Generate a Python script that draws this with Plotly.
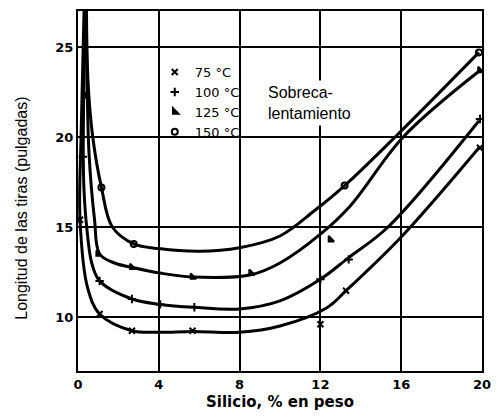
import plotly.graph_objects as go

# Curve outlines
l75_x = [0.3, 0.15, 0.1, 0.48, 1.07, 2.67, 4.0, 5.67, 8.0, 10.0, 12.3, 13.27, 16.0, 19.85]
l75_y = [27, 20, 15.4, 11.6, 10.17, 9.24, 9.15, 9.2, 9.15, 9.5, 10.5, 11.46, 14.44, 19.4]

l100_x = [0.35, 0.26, 0.3, 0.43, 0.68, 1.07, 2.67, 4.07, 5.76, 8.0, 10.0, 12.0, 13.4, 15.35, 19.85]
l100_y = [27, 19, 17, 15, 13.0, 12.0, 11.0, 10.7, 10.54, 10.45, 10.9, 12.1, 13.3, 15.0, 20.9]

l125_x = [0.4, 0.45, 0.55, 0.82, 1.07, 1.8, 2.67, 4.07, 5.67, 8.57, 10.0, 12.0, 13.5, 16.1, 19.85]
l125_y = [27, 23, 19, 15.4, 13.5, 13.0, 12.76, 12.44, 12.22, 12.35, 13.0, 14.6, 16.2, 20.0, 23.65]

l150_x = [0.42, 0.5, 0.73, 1.16, 1.7, 2.76, 4.0, 6.0, 8.0, 10.0, 11.7, 13.2, 15.7, 19.85]
l150_y = [27, 23, 20, 17.2, 15.0, 14.06, 13.8, 13.65, 13.85, 14.5, 15.9, 17.3, 20.0, 24.7]

# Measured points (markers)
m75_x = [0.1, 1.07, 2.67, 5.67, 12.0, 13.27, 19.9]
m75_y = [15.4, 10.17, 9.24, 9.24, 9.6, 11.46, 19.4]
m100_x = [0.24, 1.07, 2.67, 4.07, 5.76, 12.0, 13.4, 19.9]
m100_y = [18.9, 12.0, 11.0, 10.7, 10.54, 12.1, 13.2, 21.0]
m125_x = [0.39, 1.0, 2.67, 5.67, 8.57, 12.5, 19.9]
m125_y = [22.3, 13.5, 12.76, 12.22, 12.44, 14.3, 23.7]
m150_x = [1.16, 2.76, 13.2, 19.85]
m150_y = [17.2, 14.06, 17.3, 24.7]

labels = ["75 °C", "100 °C", "125 °C", "150 °C"]
x_ticks = [0, 4, 8, 12, 16, 20]
y_ticks = [10, 15, 20, 25]

fig = go.Figure()
for lx, ly in [(l75_x, l75_y), (l100_x, l100_y), (l125_x, l125_y), (l150_x, l150_y)]:
    fig.add_trace(go.Scatter(x=lx, y=ly, mode="lines", showlegend=False,
                             line=dict(color="black", width=3, shape="spline", smoothing=1.0),
                             hoverinfo="skip"))

symbols = ["x-thin", "cross-thin", "triangle-sw", "circle-open"]
for (mx, my), lab, sym in zip([(m75_x, m75_y), (m100_x, m100_y), (m125_x, m125_y), (m150_x, m150_y)], labels, symbols):
    fig.add_trace(go.Scatter(x=mx, y=my, mode="markers", name=lab,
                             marker=dict(symbol=sym, size=6, color="black",
                                         line=dict(color="black", width=2))))

fig.add_annotation(x=9.2, y=21.9, xref="x", yref="y", text="Sobreca-<br>lentamiento",
                   showarrow=False, xanchor="left", yanchor="middle", align="left",
                   bgcolor="white", borderpad=3,
                   font=dict(family="Liberation Sans, Arial", size=16, color="black"))

fig.add_annotation(x=-0.14, y=0.452, xref="paper", yref="paper",
                   text="Longitud de las tiras (pulgadas)", textangle=-90,
                   showarrow=False, xanchor="center", yanchor="middle",
                   font=dict(family="Liberation Sans Narrow, Liberation Sans", size=16, color="black"))

fig.update_layout(
    width=500, height=417,
    margin=dict(l=78, r=9, t=9, b=41),
    paper_bgcolor="white", plot_bgcolor="white",
    font=dict(family="Liberation Sans, Arial", color="black"),
    legend=dict(x=0.19, y=0.872, xanchor="left", yanchor="top",
                bgcolor="rgba(0,0,0,0)",
                font=dict(family="DejaVu Sans", size=13, color="black"),
                itemwidth=30, tracegroupgap=0),
)
fig.update_xaxes(range=[0, 20], tickvals=x_ticks, ticktext=[str(v) for v in x_ticks],
                 showgrid=True, gridcolor="black", gridwidth=2, zeroline=False,
                 showline=True, linecolor="black", linewidth=2, mirror=True, ticks="",
                 tickfont=dict(family="DejaVu Sans", size=13, color="black", weight="bold"),
                 title=dict(text="<b>Silicio, % en peso</b>", standoff=6,
                            font=dict(family="DejaVu Sans", size=15, color="black")))
fig.update_yaxes(range=[7, 27], tickvals=y_ticks, ticktext=[str(v) for v in y_ticks],
                 showgrid=True, gridcolor="black", gridwidth=2, zeroline=False,
                 showline=True, linecolor="black", linewidth=2, mirror=True, ticks="",
                 tickfont=dict(family="DejaVu Sans", size=13, color="black", weight="bold"))

fig.write_html("out.html")
